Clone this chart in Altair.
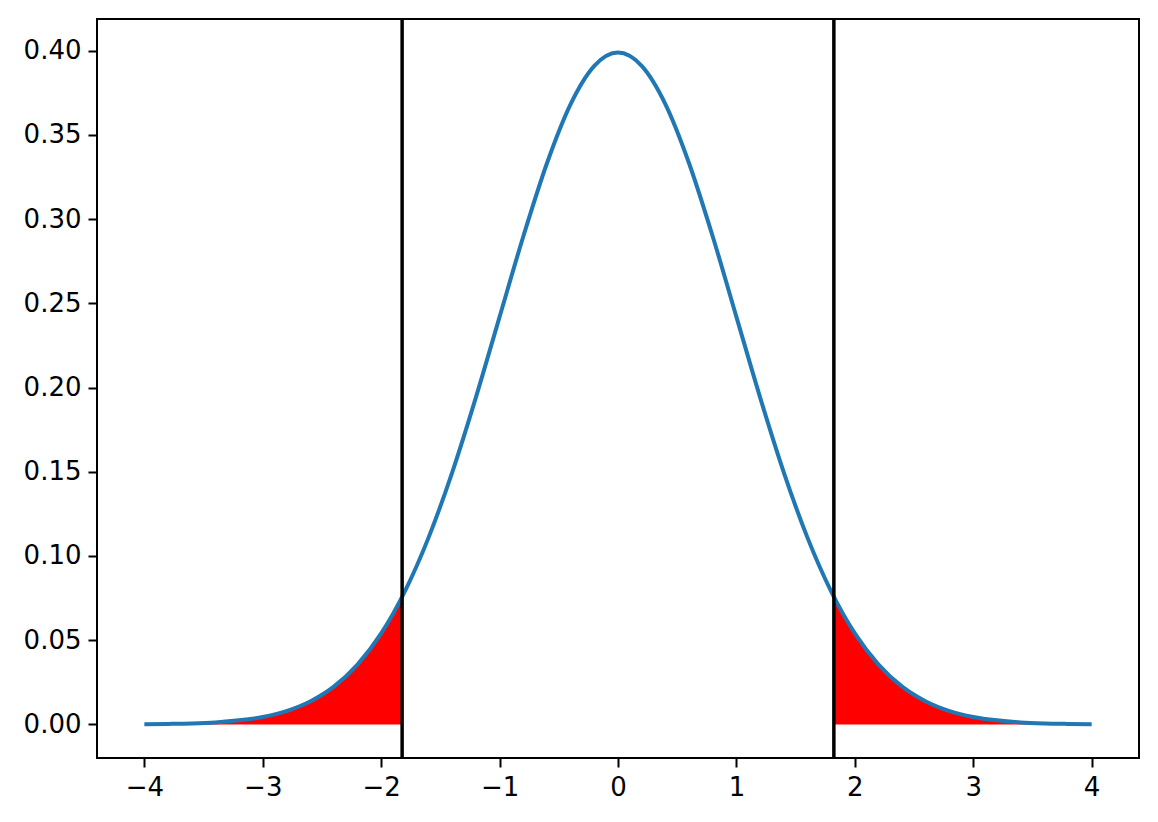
import altair as alt
import pandas as pd

# Curve values
curve_x = [-4.0, -3.8, -3.6, -3.4, -3.2, -3.0, -2.8, -2.6, -2.4, -2.2, -2.0,
           -1.8, -1.6, -1.4, -1.2, -1.0, -0.8, -0.6, -0.4, -0.2, 0.0,
           0.2, 0.4, 0.6, 0.8, 1.0, 1.2, 1.4, 1.6, 1.8, 2.0,
           2.2, 2.4, 2.6, 2.8, 3.0, 3.2, 3.4, 3.6, 3.8, 4.0]
curve_y = [0.0001, 0.0003, 0.0006, 0.0012, 0.0024, 0.0044, 0.0079, 0.0136, 0.0224, 0.0355, 0.0540,
           0.0790, 0.1109, 0.1497, 0.1942, 0.2420, 0.2897, 0.3332, 0.3683, 0.3910, 0.3989,
           0.3910, 0.3683, 0.3332, 0.2897, 0.2420, 0.1942, 0.1497, 0.1109, 0.0790, 0.0540,
           0.0355, 0.0224, 0.0136, 0.0079, 0.0044, 0.0024, 0.0012, 0.0006, 0.0003, 0.0001]

# Critical values (vertical lines)
bounds = [-1.8231, 1.8231]

# Shaded tails
left_x = [-4.0, -3.8, -3.6, -3.4, -3.2, -3.0, -2.8, -2.6, -2.4, -2.2, -2.0, -1.8231]
left_y = [0.0001, 0.0003, 0.0006, 0.0012, 0.0024, 0.0044, 0.0079, 0.0136, 0.0224, 0.0355, 0.0540, 0.0757]
right_x = [1.8231, 2.0, 2.2, 2.4, 2.6, 2.8, 3.0, 3.2, 3.4, 3.6, 3.8, 4.0]
right_y = [0.0757, 0.0540, 0.0355, 0.0224, 0.0136, 0.0079, 0.0044, 0.0024, 0.0012, 0.0006, 0.0003, 0.0001]

x_ticks = [-4, -3, -2, -1, 0, 1, 2, 3, 4]
y_ticks = [0.0, 0.05, 0.10, 0.15, 0.20, 0.25, 0.30, 0.35, 0.40]

curve_df = pd.DataFrame({"x": curve_x, "y": curve_y})
tail_df = pd.DataFrame({
    "x": left_x + right_x,
    "y": left_y + right_y,
    "side": ["left"] * len(left_x) + ["right"] * len(right_x),
})
bounds_df = pd.DataFrame({"x": bounds})

xscale = alt.Scale(domain=[-4.4, 4.4], nice=False, zero=False)
yscale = alt.Scale(domain=[-0.01995, 0.41884], nice=False, zero=False)

FONT = "DejaVu Sans"
FS = 26

xaxis = alt.Axis(values=x_ticks, title=None, grid=False, domain=False,
                 labelExpr="replace(format(datum.value, 'd'), '-', '\u2212')",
                 tickSize=9, tickWidth=2, tickColor="black",
                 labelFontSize=FS, labelFont=FONT, labelColor="black",
                 labelPadding=7, labelFlush=False)
yaxis = alt.Axis(values=y_ticks, title=None, grid=False, domain=False, format=".2f",
                 tickSize=9, tickWidth=2, tickColor="black",
                 labelFontSize=FS, labelFont=FONT, labelColor="black",
                 labelPadding=7, labelFlush=False)

area = alt.Chart(tail_df).mark_area(color="#ff0000", interpolate="monotone", opacity=1).encode(
    x=alt.X("x:Q", scale=xscale, axis=xaxis),
    y=alt.Y("y:Q", scale=yscale, axis=yaxis, stack=None),
    detail="side:N",
)

line = alt.Chart(curve_df).mark_line(color="#1f77b4", strokeWidth=4, interpolate="monotone").encode(
    x=alt.X("x:Q", scale=xscale),
    y=alt.Y("y:Q", scale=yscale),
)

rules = alt.Chart(bounds_df).mark_rule(color="black", strokeWidth=3.5).encode(
    x=alt.X("x:Q", scale=xscale),
)

chart = alt.layer(area, line, rules).properties(
    width=1042, height=739,
    autosize=alt.AutoSizeParams(type="none"),
    padding={"left": 89, "top": 11, "right": 11, "bottom": 56},
).configure_view(stroke="black", strokeWidth=2).configure_axis(
    labelFont=FONT, labelFontSize=FS
)

chart.save("out.html", embed_options={"renderer": "svg", "actions": False})
